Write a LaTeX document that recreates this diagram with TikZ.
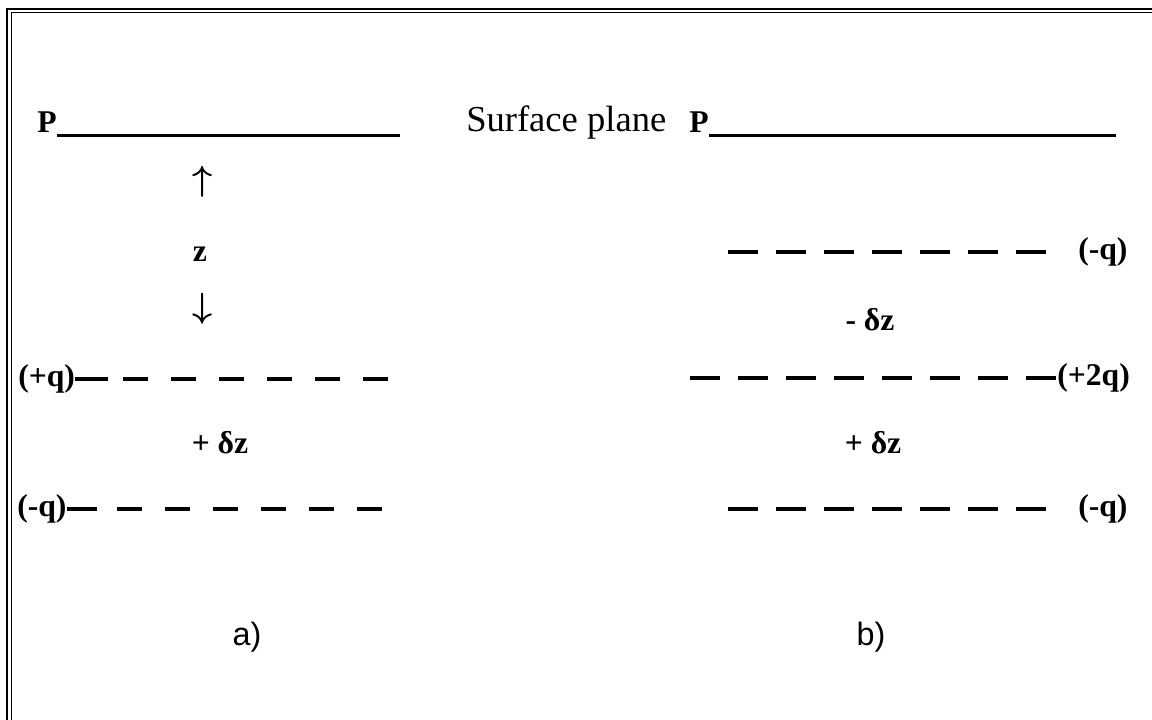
\documentclass[tikz,border=0pt]{standalone}
\usepackage{fontspec}
\setmainfont{Liberation Serif}
\newfontfamily\capfont{Liberation Sans}
\usetikzlibrary{calc}

\begin{document}
\begin{tikzpicture}[x=0.025cm, y=-0.025cm]
    \tikzset{lbl/.style={inner sep=0pt, font=\fontsize{22.5}{26}\selectfont\bfseries},
             arr/.style={inner sep=0pt, font=\fontsize{25}{30}\selectfont\boldmath},
             caseid/.style={inner sep=0pt, font=\capfont\fontsize{23}{27}\selectfont},
             plane/.style={line width=2.2pt},
             lead/.style={line width=2.4pt},
             chargeA/.style={line width=2.4pt, dash pattern=on 0.625cm off 0.575cm},
             chargeB/.style={line width=2.4pt, dash pattern=on 0.75cm off 0.45cm},
             frame/.style={line width=1.4pt}}
    \useasboundingbox (0,0) rectangle (1152,720);
    % double frame, left and top
    \draw[frame] (7,720) -- (7,9) -- (1152,9);
    \draw[frame] (11.5,720) -- (11.5,12.5) -- (1152,12.5);
    % surface plane
    \node[lbl, anchor=base west] (pA) at (37,133) {P};
    \coordinate (pAend) at (400,136);
    \coordinate (pAline) at ([yshift=-2pt]pA.base east);
    \draw[plane] (pAline) -- (pAline -| pAend);
    \node[anchor=base west, inner sep=0pt, font=\fontsize{26}{30}\selectfont] (surf) at (466,132) {Surface plane};
    \node[lbl, anchor=base west] (pB) at (689,133) {P};
    \coordinate (pBend) at (1116,136);
    \coordinate (pBline) at ([yshift=-2pt]pB.base east);
    \draw[plane] (pBline) -- (pBline -| pBend);
    % a)
    \node[arr] (upar) at (203,182) {$\uparrow$};
    \node[lbl] (zlab) at (200,254) {z};
    \node[arr] (dnar) at (203,309) {$\downarrow$};
    \node[lbl, anchor=west] (qA1) at (18,379) {(+q)};
    \coordinate (qA1end) at (398,379);
    \draw[lead] (qA1.east) -- ($(qA1.east)+(33,0)$);
    \draw[chargeA] ($(qA1.east)+(48,0)$) -- (qA1end);
    \node[lbl] (dzA) at (220,443) {+ δz};
    \node[lbl, anchor=west] (qA2) at (17,509) {(-q)};
    \coordinate (qA2end) at (388,509);
    \draw[lead] (qA2.east) -- ($(qA2.east)+(30,0)$);
    \draw[chargeA] ($(qA2.east)+(50,0)$) -- (qA2end);
    \node[caseid] (capA) at (247,637) {a)};
    % b)
    \node[lbl, anchor=west] (qB1) at (1078,252) {(-q)};
    \coordinate (qB1start) at (728,252);
    \draw[chargeB] (qB1start) -- ($(qB1.west)+(-28,0)$);
    \node[lbl] (dzB1) at (870,320) {- δz};
    \node[lbl, anchor=west] (qB2) at (1057,378) {(+2q)};
    \coordinate (qB2start) at (690,378);
    \draw[chargeB] (qB2start) -- (qB2.west);
    \node[lbl] (dzB2) at (873,443) {+ δz};
    \node[lbl, anchor=west] (qB3) at (1078,509) {(-q)};
    \coordinate (qB3start) at (728,509);
    \draw[chargeB] (qB3start) -- ($(qB3.west)+(-28,0)$);
    \node[caseid] (capB) at (871,637) {b)};
\end{tikzpicture}
\end{document}
